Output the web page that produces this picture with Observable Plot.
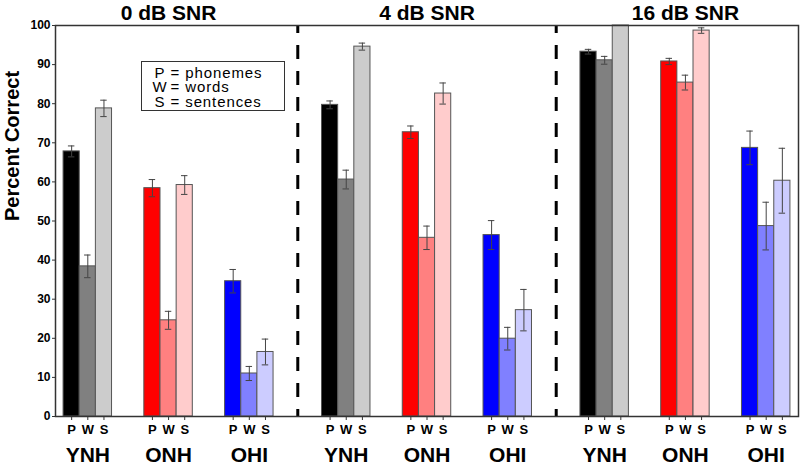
<!DOCTYPE html>
<html><head><meta charset="utf-8">
<script src="https://cdn.jsdelivr.net/npm/d3@7"></script>
<script src="https://cdn.jsdelivr.net/npm/@observablehq/plot@0.6"></script>
<style>
body{margin:0;background:#fff;font-family:"Liberation Sans",Arial,sans-serif;}
#wrap{position:relative;width:800px;height:466px;}
#legend{position:absolute;left:141px;top:61px;width:142px;height:44.5px;border:1.5px solid #333;background:#fff;
  font-size:15px;line-height:13.3px;letter-spacing:0.9px;padding-top:3.6px;box-sizing:content-box;
  display:grid;grid-template-columns:7.5px 21px auto;}
#legend .k{text-align:center;}
</style></head><body>
<div id="wrap"><div id="chart"></div><div id="legend"></div></div>
<script>
const panels = ["0 dB SNR", "4 dB SNR", "16 dB SNR"];
const groups = ["YNH", "ONH", "OHI"];
const measures = ["P", "W", "S"];
const measureNames = ["phonemes", "words", "sentences"];

// order: YNH P,W,S, ONH P,W,S, OHI P,W,S
const mean0dB  = [67.8, 38.4, 78.8, 58.4, 24.6, 59.2, 34.6, 11.0, 16.5];
const err0dB   = [1.4, 2.9, 2.1, 2.2, 2.3, 2.4, 3.0, 1.8, 3.3];
const mean4dB  = [79.7, 60.6, 94.6, 72.7, 45.7, 82.6, 46.4, 19.9, 27.2];
const err4dB   = [1.0, 2.4, 0.9, 1.6, 3.0, 2.7, 3.7, 2.9, 5.3];
const mean16dB = [93.3, 91.1, 100.0, 90.8, 85.4, 98.7, 68.7, 48.7, 60.3];
const err16dB  = [0.6, 1.0, 0.0, 0.8, 1.9, 0.7, 4.3, 6.1, 8.3];

const yTicks = d3.range(0, 101, 10);

const groupColors = [
  ["#000000", "#808080", "#cccccc"],
  ["#ff0000", "#ff8080", "#ffcccc"],
  ["#0000ff", "#8080ff", "#ccccff"]
];

// slot layout: 3 bars + 2 empty slots per group, 16 slots per panel
const SLOTS_PER_GROUP = 5, SLOTS_PER_PANEL = 16;
const series = [[mean0dB, err0dB], [mean4dB, err4dB], [mean16dB, err16dB]];
const rows = [];
series.forEach(([m, e], p) => {
  groups.forEach((g, gi) => measures.forEach((s, si) => {
    const k = gi * 3 + si;
    rows.push({panel: panels[p], group: g, measure: s, si, gi, p,
      pos: p * SLOTS_PER_PANEL + gi * SLOTS_PER_GROUP + si,
      mean: m[k], err: e[k], color: groupColors[gi][si]});
  }));
});
const errRows = rows.filter(d => d.err > 0);
const caps = errRows.flatMap(d => [d.mean - d.err, d.mean + d.err].map(v => ({pos: d.pos, v})));
const groupCenters = rows.filter(d => d.si === 1);
const panelCenters = rows.filter(d => d.si === 1 && d.gi === 1);
const separators = [1, 2].map(p => p * SLOTS_PER_PANEL - 2);
const posLookup = new Map(rows.map(d => [d.pos, d]));

const chart = Plot.plot({
  width: 800, height: 466,
  marginLeft: 55, marginRight: 2, marginTop: 25, marginBottom: 50,
  style: {fontFamily: "Liberation Sans, Arial, sans-serif", background: "white", color: "black"},
  x: {type: "linear", domain: [-1, 45]},
  y: {domain: [0, 100]},
  color: {type: "identity"},
  marks: [
    Plot.rect(rows, {x1: d => d.pos - 0.5, x2: d => d.pos + 0.5, y1: 0, y2: "mean",
      fill: "color", stroke: "#555", strokeWidth: 1}),
    Plot.ruleX(errRows, {x: "pos", y1: d => d.mean - d.err, y2: d => d.mean + d.err,
      stroke: "#444", strokeWidth: 1}),
    Plot.ruleY(caps, {y: "v", x1: d => d.pos - 0.2, x2: d => d.pos + 0.2, stroke: "#444", strokeWidth: 1}),
    Plot.ruleX(separators, {stroke: "black", strokeWidth: 3, strokeDasharray: "14,12", strokeDashoffset: 6}),
    Plot.frame({stroke: "#333", strokeWidth: 1.5}),
    Plot.axisY(yTicks, {tickSize: 3, tickPadding: 2, fontSize: 12, fontWeight: "bold", label: null, stroke: "#333"}),
    Plot.axisX(rows.map(d => d.pos), {tickFormat: d => posLookup.get(d).measure, tickSize: 4, tickPadding: 4,
      fontSize: 13, fontWeight: "bold", label: null, stroke: "#333"}),
    Plot.axisX(groupCenters.map(d => d.pos), {tickFormat: d => posLookup.get(d).group, tickSize: 0, tickPadding: 31,
      fontSize: 21, fontWeight: "bold", label: null}),
    Plot.axisX(panelCenters.map(d => d.pos), {anchor: "top", tickFormat: d => posLookup.get(d).panel, tickSize: 0,
      tickPadding: 6, fontSize: 21, fontWeight: "bold", label: null}),
    Plot.text(["Percent Correct"], {text: d => d, frameAnchor: "left", dx: -43, rotate: -90,
      fontSize: 20, fontWeight: "bold"})
  ]
});
document.getElementById("chart").appendChild(chart);

const legend = document.getElementById("legend");
measures.forEach((m, i) => {
  legend.insertAdjacentHTML("beforeend",
    `<span></span><span class="k">${m}</span><span>= ${measureNames[i]}</span>`);
});
</script>
</body></html>
